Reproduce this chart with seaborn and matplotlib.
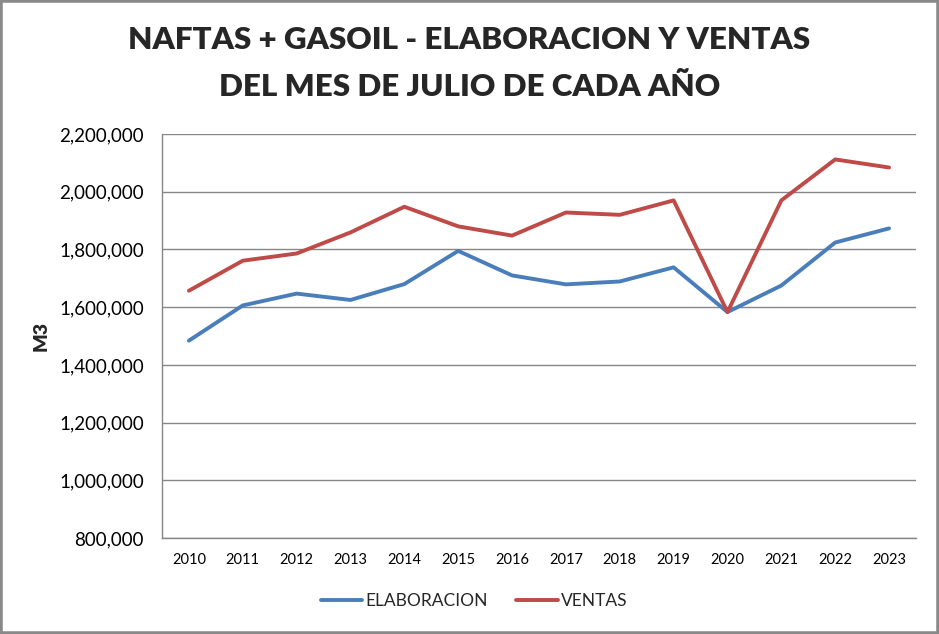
import pandas as pd
import numpy as np
import matplotlib
matplotlib.use('Agg')
import matplotlib.pyplot as plt
import seaborn as sns
from matplotlib.ticker import FuncFormatter
from matplotlib.patches import Rectangle

years = [2010, 2011, 2012, 2013, 2014, 2015, 2016, 2017, 2018, 2019, 2020, 2021, 2022, 2023]
elaboracion = [1484000, 1606000, 1647000, 1625000, 1680000, 1795000, 1710000,
               1679000, 1689000, 1738000, 1583000, 1675000, 1824000, 1873000]
ventas = [1657000, 1761000, 1786000, 1859000, 1948000, 1880000, 1848000,
          1928000, 1920000, 1970000, 1583000, 1970000, 2112000, 2084000]

df = pd.DataFrame({'year': years, 'ELABORACION': elaboracion, 'VENTAS': ventas})
df = df.melt(id_vars='year', var_name='serie', value_name='m3')

sns.set_style('white')
plt.rcParams['font.family'] = ['Lato', 'DejaVu Sans']

fig = plt.figure(figsize=(9.39, 6.34), dpi=100)
ax = fig.add_axes([0.1725, 0.1514, 0.803, 0.6372])

sns.lineplot(data=df, x='year', y='m3', hue='serie',
             palette={'ELABORACION': '#4A7EBB', 'VENTAS': '#BE4B48'},
             linewidth=2.8, ax=ax, legend=False)

ax.set_xlim(2009.5, 2023.5)
ax.set_ylim(800000, 2200000)
ax.set_xticks(years)
ax.set_yticks(np.arange(800000, 2200001, 200000))
ax.yaxis.set_major_formatter(FuncFormatter(lambda v, p: f'{int(v):,}'))
ax.tick_params(axis='y', length=0, pad=13, labelsize=13.5, colors='black')
ax.tick_params(axis='x', length=0, pad=11, labelsize=10.5, colors='black')
ax.grid(axis='y', color='#868686', linewidth=1)
for s in ['top', 'right']:
    ax.spines[s].set_visible(False)
for s in ['left', 'bottom']:
    ax.spines[s].set_color('#868686')
    ax.spines[s].set_linewidth(1)

ax.set_xlabel('')
ax.set_ylabel('M3', fontsize=14, fontweight='heavy')
ax.yaxis.set_label_coords(-0.16, 0.5)
ax.yaxis.label.set_va('center')

fig.text(0.5, 1 - 40 / 634, 'NAFTAS + GASOIL - ELABORACION Y VENTAS',
         ha='center', va='center', fontsize=22.6, fontweight='heavy')
fig.text(0.5, 1 - 87 / 634, 'DEL MES DE JULIO DE CADA AÑO',
         ha='center', va='center', fontsize=22.6, fontweight='heavy')

handles = [plt.Line2D([], [], color='#4A7EBB', lw=2.8),
           plt.Line2D([], [], color='#BE4B48', lw=2.8)]
fig.legend(handles, ['ELABORACION', 'VENTAS'], loc='center', ncol=2,
           bbox_to_anchor=(0.505, 0.052), frameon=False, fontsize=12.5,
           handlelength=2.4, handletextpad=0.2, columnspacing=1.6)

fig.patches.append(Rectangle((0, 0), 1, 1, transform=fig.transFigure,
                             fill=False, edgecolor='#898989', linewidth=4))

fig.savefig('out.png', dpi=100)
